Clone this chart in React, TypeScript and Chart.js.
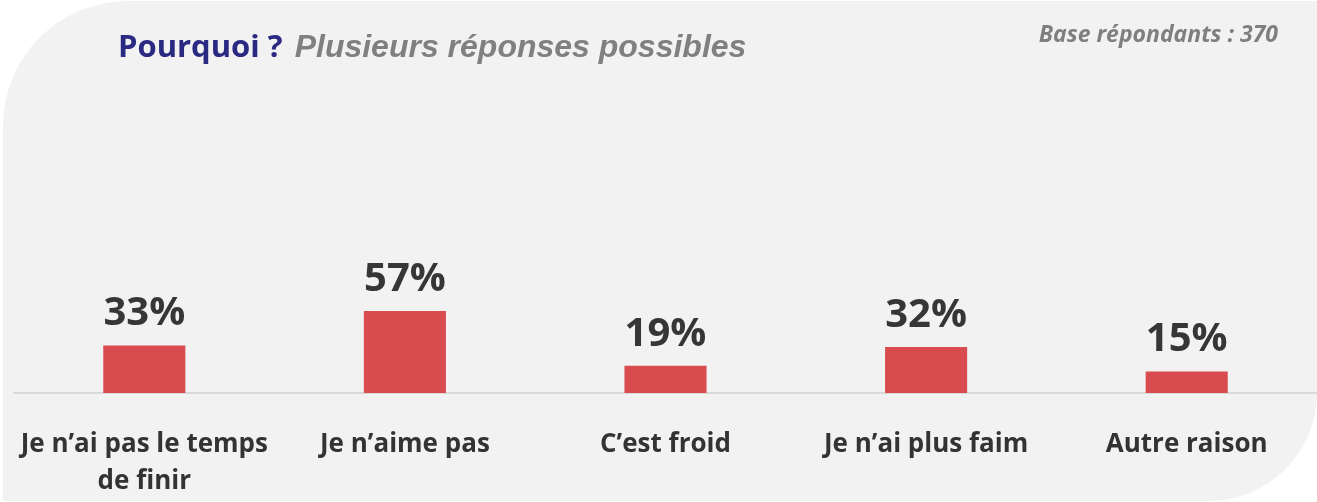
import React, { useEffect, useRef } from "react";
import { Chart, registerables } from "chart.js";

Chart.register(...registerables);

const titleMain = "Pourquoi ?";
const titleSub = "Plusieurs réponses possibles";
const baseNote = "Base répondants : 370";
const categories: (string | string[])[] = [
  ["Je n’ai pas le temps", "de finir"],
  "Je n’aime pas",
  "C’est froid",
  "Je n’ai plus faim",
  "Autre raison",
];
const values = [33, 57, 19, 32, 15];

const W = 1317;
const H = 502;

const decorPlugin = {
  id: "decor",
  beforeDraw(chart: any) {
    const ctx = chart.ctx;
    ctx.save();
    ctx.fillStyle = "#F2F2F2";
    ctx.beginPath();
    (ctx as any).roundRect(3, 1, W - 3, H - 2, [125, 0, 108, 0]);
    ctx.fill();

    ctx.textBaseline = "alphabetic";
    ctx.textAlign = "left";
    ctx.fillStyle = "#2B2A82";
    ctx.font = "bold 31px 'Open Sans'";
    ctx.fillText(titleMain, 118, 57);
    const w = ctx.measureText(titleMain + " ").width;
    ctx.fillStyle = "#808080";
    ctx.font = "italic bold 32px 'Liberation Sans'";
    ctx.fillText(titleSub, 118 + w + 4, 57);

    ctx.textAlign = "right";
    ctx.fillStyle = "#7F7F7F";
    ctx.font = "italic bold 23px 'Open Sans'";
    ctx.fillText(baseNote, 1278, 42);
    ctx.restore();
  },
  afterDatasetsDraw(chart: any) {
    const ctx = chart.ctx;
    const meta = chart.getDatasetMeta(0);
    ctx.save();
    ctx.fillStyle = "#363636";
    ctx.font = "bold 40px 'Open Sans'";
    ctx.textAlign = "center";
    ctx.textBaseline = "alphabetic";
    meta.data.forEach((bar: any, i: number) => {
      ctx.fillText(`${values[i]}%`, bar.x, bar.y - 20);
    });
    ctx.restore();
  },
};

export default function App() {
  const ref = useRef<HTMLCanvasElement>(null);
  useEffect(() => {
    if (!ref.current) return;
    const chart = new Chart(ref.current, {
      type: "bar",
      data: {
        labels: categories,
        datasets: [
          {
            data: values,
            backgroundColor: "#D84C50",
            borderWidth: 0,
            barPercentage: 0.315,
            categoryPercentage: 1,
          },
        ],
      },
      options: {
        animation: false,
        responsive: false,
        devicePixelRatio: 1,
        layout: { padding: { left: 14, right: 0, top: 249, bottom: 0 } },
        plugins: {
          legend: { display: false },
          tooltip: { enabled: false },
          title: { display: false },
        },
        scales: {
          x: {
            grid: { display: false },
            border: { display: true, color: "#D9D9D9", width: 2 },
            ticks: {
              color: "#333333",
              padding: 25,
              maxRotation: 0,
              autoSkip: false,
              font: { family: "'Open Sans'", size: 26, weight: "bold", lineHeight: 1.423 },
            },
            afterFit: (scale: any) => {
              scale.height = 109;
              scale.paddingLeft = 0;
              scale.paddingRight = 0;
            },
          },
          y: {
            display: false,
            min: 0,
            max: 100,
          },
        },
      },
      plugins: [decorPlugin],
    });
    return () => chart.destroy();
  }, []);
  return (
    <div style={{ position: "fixed", left: 0, top: 0, width: W, height: H, background: "#FFFFFF" }}>
      <canvas ref={ref} width={W} height={H} style={{ display: "block" }} />
    </div>
  );
}
